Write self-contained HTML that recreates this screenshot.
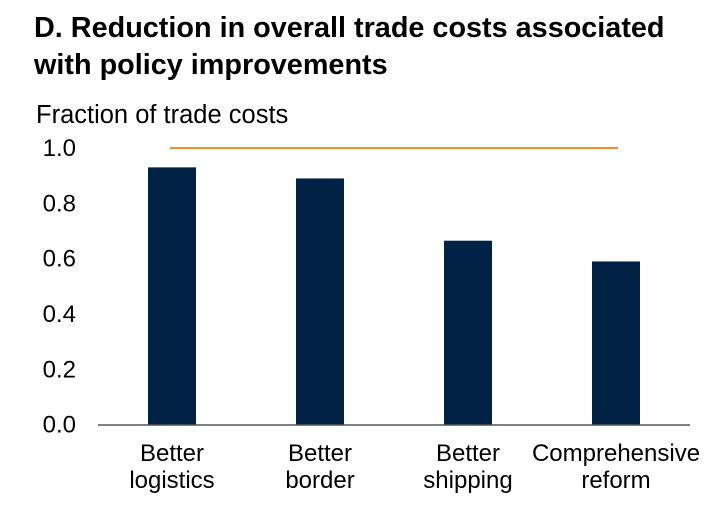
<!DOCTYPE html>
<html><head><meta charset="utf-8"><style>
body{margin:0;background:#fff;font-family:"Liberation Sans",Arial,sans-serif;}
</style></head><body>
<svg width="727" height="523" xmlns="http://www.w3.org/2000/svg">
<text x="34" y="37" font-size="28.8" font-weight="bold" fill="#000">D. Reduction in overall trade costs associated</text>
<text x="34" y="74" font-size="28.8" font-weight="bold" fill="#000">with policy improvements</text>
<text x="36" y="123" font-size="25.5" fill="#000">Fraction of trade costs</text>
<g id="ticks"></g>
<g id="bars"></g>
<g id="xlabels"></g>
<line x1="98" y1="425" x2="690" y2="425" stroke="#555" stroke-width="1.5"/>
<line id="ref" stroke="#f28e2b" stroke-width="2"/>
</svg>
<script>
const categories=[["Better","logistics"],["Better","border"],["Better","shipping"],["Comprehensive","reform"]];
const values=[0.93,0.89,0.665,0.59];
const tickValues=[0,0.2,0.4,0.6,0.8,1.0];
const tickLabels=["0.0","0.2","0.4","0.6","0.8","1.0"];
const refValue=1.0;
const NS="http://www.w3.org/2000/svg";
const y=v=>424.7-v*276.7;
const xc=i=>172+i*148;
const bw=48;
function mk(t,a,p){const e=document.createElementNS(NS,t);for(const k in a)e.setAttribute(k,a[k]);p.appendChild(e);return e;}
const tg=document.getElementById('ticks');
tickValues.forEach((v,i)=>{const t=mk('text',{x:76,y:y(v)+8,'font-size':24,'text-anchor':'end',fill:'#000'},tg);t.textContent=tickLabels[i];

});
const bg=document.getElementById('bars');
values.forEach((v,i)=>{const r=mk('rect',{x:xc(i)-bw/2,y:y(v),width:bw,height:y(0)-y(v),fill:'#002345'},bg);

});
const xg=document.getElementById('xlabels');
categories.forEach((c,i)=>{c.forEach((s,j)=>{const t=mk('text',{x:xc(i),y:461+j*27,'font-size':24,'text-anchor':'middle',fill:'#000'},xg);t.textContent=s;

});});
const r=document.getElementById('ref');
r.setAttribute('x1',170);r.setAttribute('x2',618);r.setAttribute('y1',y(refValue));r.setAttribute('y2',y(refValue));
</script>
</body></html>
